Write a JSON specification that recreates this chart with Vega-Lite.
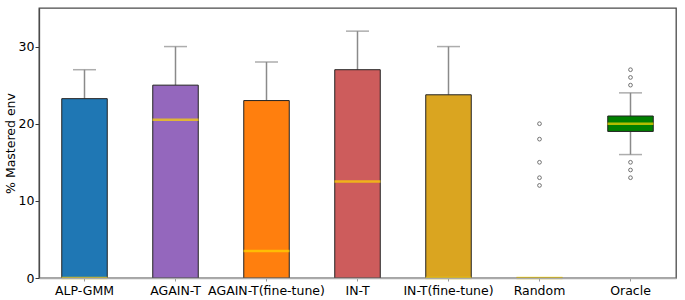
{
  "$schema": "https://vega.github.io/schema/vega-lite/v6.json",
  "autosize": "none",
  "width": 637,
  "height": 270,
  "padding": {"left": 39, "top": 8, "right": 9, "bottom": 22},
  "background": "white",
  "config": {
    "font": "DejaVu Sans",
    "view": {"stroke": "#4a4a4a", "strokeWidth": 1.3},
    "axis": {"grid": false, "labelFont": "DejaVu Sans", "titleFont": "DejaVu Sans", "labelColor": "#000", "titleColor": "#000"}
  },
  "datasets": {
    "stats": [
      {"method": "ALP-GMM", "lower": 0, "q1": 0, "median": 0, "q3": 23.25, "upper": 27},
      {"method": "AGAIN-T", "lower": 0, "q1": 0, "median": 20.5, "q3": 25, "upper": 30},
      {"method": "AGAIN-T(fine-tune)", "lower": 0, "q1": 0, "median": 3.5, "q3": 23, "upper": 28},
      {"method": "IN-T", "lower": 0, "q1": 0, "median": 12.5, "q3": 27, "upper": 32},
      {"method": "IN-T(fine-tune)", "lower": 0, "q1": 0, "median": 0, "q3": 23.75, "upper": 30},
      {"method": "Random", "lower": 0, "q1": 0, "median": 0, "q3": 0, "upper": 0},
      {"method": "Oracle", "lower": 16, "q1": 19, "median": 20, "q3": 21, "upper": 24}
    ],
    "outliers": [
      {"method": "Random", "value": 12},
      {"method": "Random", "value": 13},
      {"method": "Random", "value": 15},
      {"method": "Random", "value": 18},
      {"method": "Random", "value": 20},
      {"method": "Oracle", "value": 13},
      {"method": "Oracle", "value": 14},
      {"method": "Oracle", "value": 15},
      {"method": "Oracle", "value": 25},
      {"method": "Oracle", "value": 26},
      {"method": "Oracle", "value": 27}
    ]
  },
  "encoding": {
    "x": {
      "field": "method",
      "type": "nominal",
      "sort": ["ALP-GMM", "AGAIN-T", "AGAIN-T(fine-tune)", "IN-T", "IN-T(fine-tune)", "Random", "Oracle"],
      "scale": {"paddingInner": 0, "paddingOuter": 0},
      "axis": {
        "title": null,
        "labelAngle": 0,
        "labelFontSize": 12.5,
        "labelPadding": 3,
        "tickSize": 3,
        "tickColor": "#999",
        "domainColor": "#aaaaaa",
        "domainWidth": 1.5,
        "zindex": 1
      }
    }
  },
  "layer": [
    {
      "data": {"name": "stats"},
      "mark": {"type": "rule", "color": "#8a8a8a", "strokeWidth": 1.5},
      "encoding": {
        "y": {"field": "q3", "type": "quantitative", "scale": {"domain": [0, 35], "nice": false},
          "axis": {"title": "% Mastered env", "titleFontSize": 12.5, "titleFontWeight": "normal", "titleX": -22, "titleBaseline": "bottom", "labelFontSize": 12.5, "values": [0, 10, 20, 30], "tickSize": 4, "tickColor": "#333", "domainColor": "#4a4a4a", "domainWidth": 1.3, "labelPadding": 1}},
        "y2": {"field": "upper"}
      }
    },
    {
      "data": {"name": "stats"},
      "mark": {"type": "rule", "color": "#8a8a8a", "strokeWidth": 1.5},
      "encoding": {
        "y": {"field": "lower", "type": "quantitative"},
        "y2": {"field": "q1"}
      }
    },
    {
      "data": {"name": "stats"},
      "mark": {"type": "tick", "color": "#8a8a8a", "size": 23, "thickness": 1.5},
      "encoding": {"y": {"field": "upper", "type": "quantitative"}}
    },
    {
      "data": {"name": "stats"},
      "mark": {"type": "tick", "color": "#8a8a8a", "size": 23, "thickness": 1.5},
      "encoding": {"y": {"field": "lower", "type": "quantitative"}}
    },
    {
      "data": {"name": "stats"},
      "mark": {"type": "bar", "width": {"band": 0.5}, "stroke": "#222222", "strokeWidth": 1, "opacity": 1},
      "encoding": {
        "y": {"field": "q1", "type": "quantitative"},
        "y2": {"field": "q3"},
        "color": {
          "field": "method",
          "type": "nominal",
          "scale": {
            "domain": ["ALP-GMM", "AGAIN-T", "AGAIN-T(fine-tune)", "IN-T", "IN-T(fine-tune)", "Random", "Oracle"],
            "range": ["#1f77b4", "#9467bd", "#ff7f0e", "#cd5c5c", "#daa520", "#b8a032", "#008000"]
          },
          "legend": null
        }
      }
    },
    {
      "data": {"name": "stats"},
      "mark": {"type": "tick", "color": "#ffd700", "size": 46, "thickness": 2.5},
      "encoding": {"y": {"field": "median", "type": "quantitative"}}
    },
    {
      "data": {"name": "outliers"},
      "mark": {"type": "point", "shape": "circle", "filled": false, "size": 14, "stroke": "#222", "strokeWidth": 0.9},
      "encoding": {"y": {"field": "value", "type": "quantitative"}}
    }
  ]
}
